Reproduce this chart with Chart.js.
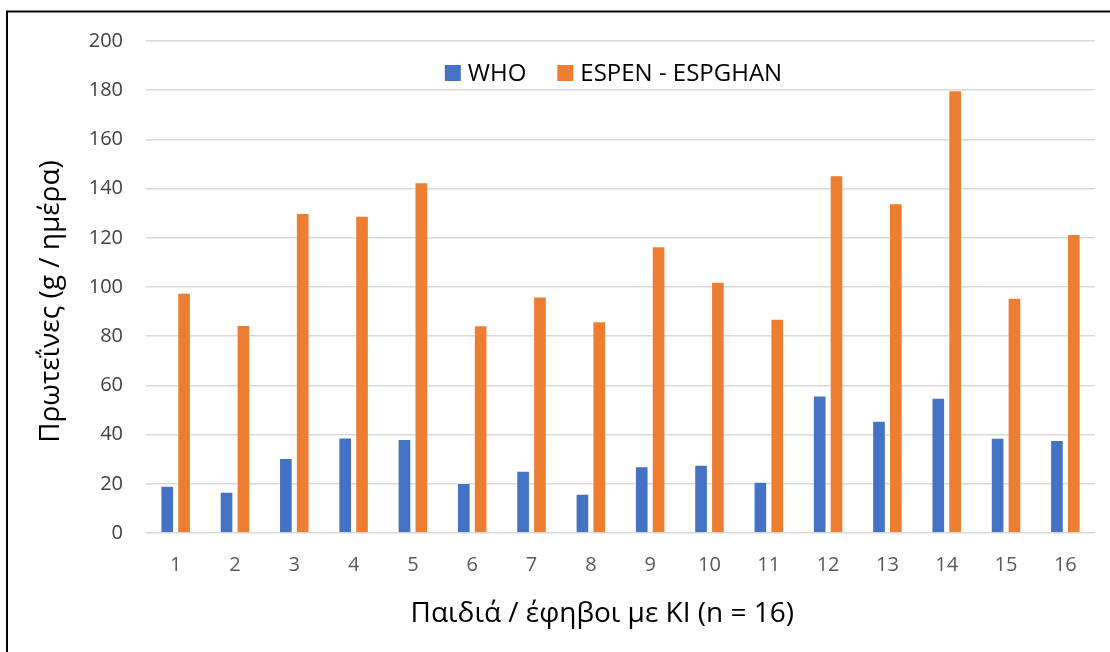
<!DOCTYPE html>
<html>
<head>
<meta charset="utf-8">
<script src="https://cdn.jsdelivr.net/npm/chart.js@4.4.1/dist/chart.umd.min.js"></script>
<style>
  body { margin: 0; background: #fff; }
  canvas { display: block; }
</style>
</head>
<body>
<canvas id="chart" width="1110" height="652"></canvas>
<script>
// children / adolescents 1..16
var categories = ['1', '2', '3', '4', '5', '6', '7', '8', '9', '10', '11', '12', '13', '14', '15', '16'];
var whoValues = [19.2, 16.8, 30.5, 38.8, 38.2, 20.3, 25.3, 16.0, 27.1, 27.7, 20.8, 55.9, 45.6, 55.0, 38.7, 37.8];
var espenValues = [97.7, 84.6, 130.1, 129.0, 142.6, 84.5, 96.1, 86.1, 116.6, 102.1, 87.1, 145.4, 134.0, 180.0, 95.6, 121.5];
var yTicks = [0, 20, 40, 60, 80, 100, 120, 140, 160, 180, 200];

var fontFamily = '"Open Sans", "Noto Sans", sans-serif';
var nbsp = '\u00a0';

// white background + the frame around the chart
var framePlugin = {
    id: 'frame',
    beforeDraw: function(chart) {
        var ctx = chart.ctx;
        ctx.save();
        ctx.fillStyle = '#ffffff';
        ctx.fillRect(0, 0, chart.width, chart.height);
        ctx.strokeStyle = '#000000';
        ctx.lineWidth = 2;
        ctx.strokeRect(7, 11.5, 2000, 2000);
        ctx.restore();
    }
};

// legend drawn over the top of the plot area
var innerLegend = {
    id: 'innerLegend',
    afterDraw: function(chart) {
        var ctx = chart.ctx;
        ctx.save();
        ctx.font = '24px ' + fontFamily;
        ctx.textBaseline = 'middle';
        var box = 16, textGap = 7, itemGap = 31;
        var items = chart.data.datasets.map(function(ds) {
            return { label: ds.label, color: ds.backgroundColor, w: ctx.measureText(ds.label).width };
        });
        var total = 0;
        items.forEach(function(it, i) {
            total += box + textGap + it.w + (i > 0 ? itemGap : 0);
        });
        var x = (chart.chartArea.left + chart.chartArea.right) / 2 - total / 2 - 7;
        var y = 73;
        items.forEach(function(it) {
            ctx.fillStyle = it.color;
            ctx.fillRect(x, y - box / 2, box, box);
            ctx.fillStyle = '#000000';
            ctx.fillText(it.label, x + box + textGap, y + 1);
            x += box + textGap + it.w + itemGap;
        });
        ctx.restore();
    }
};

var ctx = document.getElementById('chart').getContext('2d');
new Chart(ctx, {
    type: 'bar',
    data: {
        labels: categories,
        datasets: [{
            label: 'WHO',
            data: whoValues,
            backgroundColor: '#4472C4',
            borderColor: 'rgba(255,255,255,0.45)',
            borderWidth: 1,
            categoryPercentage: 0.568,
            barPercentage: 0.81
        }, {
            label: 'ESPEN - ESPGHAN',
            data: espenValues,
            backgroundColor: '#ED7D31',
            borderColor: 'rgba(255,255,255,0.45)',
            borderWidth: 1,
            categoryPercentage: 0.568,
            barPercentage: 0.81
        }]
    },
    options: {
        responsive: false,
        animation: false,
        layout: {
            padding: { left: 30, right: 15, top: 41, bottom: 17 }
        },
        plugins: {
            legend: { display: false },
            tooltip: { enabled: false }
        },
        scales: {
            x: {
                grid: { display: false, drawTicks: false },
                border: { display: false },
                ticks: {
                    padding: 20,
                    color: '#595959',
                    font: { family: fontFamily, size: 20 }
                },
                title: {
                    display: true,
                    // trailing spaces nudge the title left like in the original
                    text: 'Παιδιά / έφηβοι με ΚΙ (n = 16)' + nbsp.repeat(5),
                    color: '#000000',
                    font: { family: fontFamily, size: 28 }
                },
                afterFit: function(scale) { scale.height = 102; }
            },
            y: {
                min: 0,
                max: 200,
                afterBuildTicks: function(scale) {
                    scale.ticks = yTicks.map(function(v) { return { value: v }; });
                },
                grid: { color: '#d9d9d9', lineWidth: 1.5, drawTicks: false },
                border: { display: false },
                ticks: {
                    padding: 23,
                    color: '#404040',
                    font: { family: fontFamily, size: 20 }
                },
                title: {
                    display: true,
                    text: 'Πρωτεΐνες (g / ημέρα)' + nbsp.repeat(4),
                    color: '#000000',
                    font: { family: fontFamily, size: 28 }
                },
                afterFit: function(scale) { scale.width = 116; }
            }
        }
    },
    plugins: [framePlugin, innerLegend]
});
</script>
</body>
</html>
